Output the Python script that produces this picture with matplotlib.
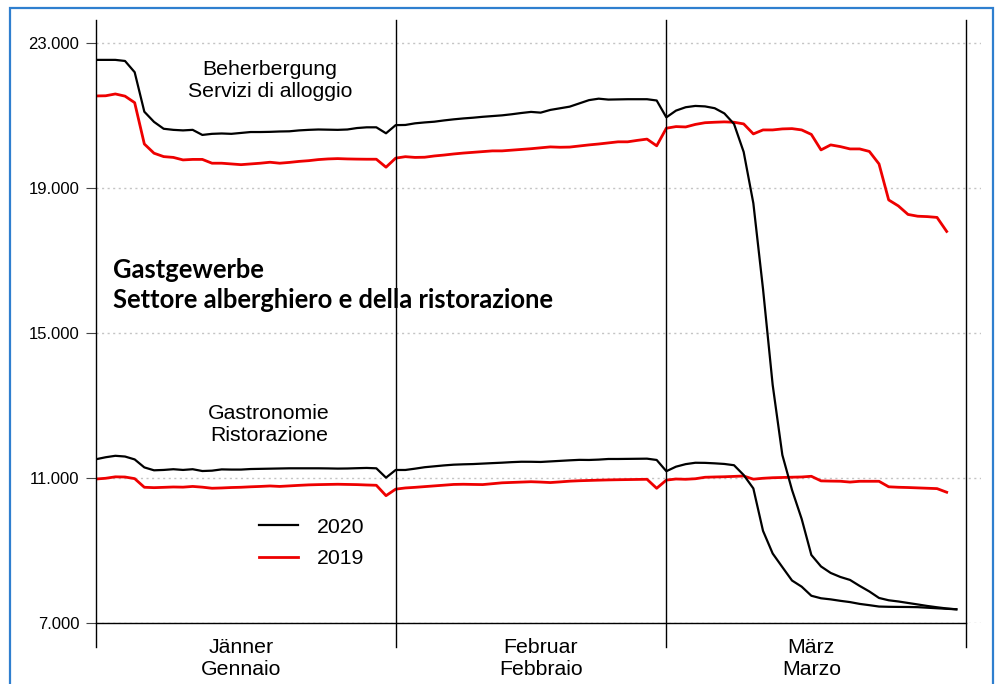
import numpy as np
import matplotlib
matplotlib.use("Agg")
import matplotlib.pyplot as plt
from matplotlib.patches import Rectangle

# daily values, index 0 = 1 January (2020 has 29 Feb, 2019 has not)
beh_2020 = [22540, 22540, 22540, 22510, 22200, 21110, 20830, 20640, 20610, 20595,
            20610, 20470, 20500, 20510, 20500, 20525, 20550, 20550, 20555, 20565,
            20570, 20595, 20610, 20620, 20615, 20610, 20620, 20660, 20680, 20680, 20515,
            20740, 20745, 20790, 20815, 20835, 20870, 20900, 20925, 20945, 20970,
            20990, 21010, 21040, 21075, 21105, 21085, 21160, 21205, 21250, 21340,
            21430, 21470, 21445, 21450, 21455, 21455, 21455, 21420, 20955,
            21141, 21234, 21270, 21257, 21207, 21064, 20773, 20000, 18586, 16222,
            13574, 11643, 10678, 9878, 8885, 8568, 8389, 8278, 8196, 8031,
            7878, 7699, 7635, 7602, 7561, 7520, 7478, 7442, 7409, 7386]

beh_2019 = [21545, 21550, 21600, 21540, 21360, 20220, 19966, 19872, 19850, 19781,
            19795, 19795, 19690, 19690, 19670, 19650, 19670, 19690, 19717, 19690,
            19712, 19740, 19760, 19790, 19808, 19817, 19808, 19803, 19800, 19800, 19580,
            19830, 19870, 19850, 19855, 19890, 19915, 19945, 19970, 19990, 20010,
            20030, 20030, 20050, 20070, 20090, 20115, 20140, 20130, 20135, 20165,
            20195, 20220, 20250, 20280, 20280, 20320, 20355, 20170,
            20655, 20700, 20690, 20760, 20807, 20820, 20830, 20820, 20774, 20498,
            20608, 20608, 20636, 20644, 20608, 20484, 20057, 20195, 20148, 20084,
            20084, 20015, 19670, 18677, 18512, 18277, 18228, 18217, 18195, 17808]

gas_2020 = [11525, 11580, 11620, 11600, 11520, 11300, 11220, 11230, 11250, 11230,
            11250, 11200, 11210, 11245, 11240, 11240, 11255, 11260, 11265, 11270,
            11275, 11275, 11275, 11275, 11272, 11267, 11270, 11278, 11285, 11275, 11017,
            11229, 11229, 11265, 11305, 11330, 11355, 11375, 11385, 11392, 11405,
            11418, 11430, 11445, 11456, 11455, 11450, 11465, 11480, 11495, 11508,
            11505, 11515, 11532, 11532, 11535, 11538, 11541, 11505, 11195,
            11320, 11390, 11428, 11425, 11412, 11395, 11360, 11090, 10720, 9550,
            8925, 8550, 8180, 8010, 7760, 7690, 7660, 7620, 7585, 7535,
            7500, 7462, 7455, 7452, 7450, 7445, 7430, 7415, 7400, 7386]

gas_2019 = [10980, 11000, 11040, 11035, 10990, 10752, 10741, 10750, 10760, 10755,
            10775, 10755, 10725, 10733, 10745, 10752, 10765, 10775, 10788, 10775,
            10790, 10805, 10818, 10825, 10830, 10835, 10830, 10825, 10815, 10807, 10520,
            10700, 10733, 10750, 10770, 10790, 10810, 10830, 10835, 10830, 10826,
            10850, 10875, 10885, 10895, 10905, 10895, 10882, 10900, 10920, 10932,
            10940, 10948, 10955, 10960, 10964, 10968, 10972, 10724,
            10950, 10980, 10972, 10987, 11028, 11036, 11042, 11052, 11063, 10975,
            11000, 11015, 11022, 11030, 11036, 11055, 10928, 10922, 10918, 10895,
            10917, 10917, 10917, 10765, 10752, 10745, 10735, 10725, 10715, 10615]

month_edges = [0, 31, 59, 90]
month_label_pos = [15, 46, 74]
month_labels = ["Jänner\nGennaio", "Februar\nFebbraio", "März\nMarzo"]
y_ticks = [7000, 11000, 15000, 19000, 23000]

RED = "#ee0000"

plt.rcParams["font.family"] = ["Liberation Sans", "DejaVu Sans"]

fig = plt.figure(figsize=(9.97, 6.84), dpi=100)
ax = fig.add_axes([96 / 997, 1 - 623.3 / 684, (981 - 96) / 997, (623.3 - 20) / 684])

ax.set_xlim(0, 91.55)
ax.set_ylim(7000, 23640)

for v in y_ticks:
    ax.axhline(v, color="#c4c4c4", lw=1.0, ls=(0, (1.5, 2.5)), zorder=1)

ax.plot(np.arange(len(beh_2019)), beh_2019, color=RED, lw=2.0, zorder=3)
ax.plot(np.arange(len(gas_2019)), gas_2019, color=RED, lw=2.0, zorder=3, label="2019")
ax.plot(np.arange(len(beh_2020)), beh_2020, color="black", lw=1.6, zorder=4)
ax.plot(np.arange(len(gas_2020)), gas_2020, color="black", lw=1.6, zorder=4, label="2020")

for m in month_edges:
    ax.axvline(m, ymin=-0.039, ymax=1, color="black", lw=1.0, clip_on=False, zorder=5)
ax.plot([month_edges[0], month_edges[-1]], [7000, 7000], color="black", lw=1.0,
        clip_on=False, zorder=5)

for xp, lab in zip(month_label_pos, month_labels):
    ax.text(xp, 6040, lab, ha="center", va="center", fontsize=15.3, linespacing=1.2)

ax.text(18.0, 21960, "Beherbergung\nServizi di alloggio", ha="center", va="center",
        fontsize=15.3, linespacing=1.2)
ax.text(17.9, 12480, "Gastronomie\nRistorazione", ha="center", va="center",
        fontsize=15.3, linespacing=1.2)
ax.text(1.76, 16330, "Gastgewerbe\nSettore alberghiero e della ristorazione",
        ha="left", va="center", fontsize=18.4, fontweight="bold", family="Lato",
        linespacing=1.3)

h, l = ax.get_legend_handles_labels()
ax.legend(h[::-1], l[::-1], loc="center left", bbox_to_anchor=(259 / 997, 1 - 543 / 684),
          bbox_transform=fig.transFigure, frameon=False, fontsize=15.3, borderpad=0,
          borderaxespad=0, handlelength=1.85, handletextpad=0.85, labelspacing=0.6)

ax.set_yticks(y_ticks)
ax.set_yticklabels([f"{v:,}".replace(",", ".") for v in y_ticks])
ax.tick_params(axis="y", length=7, width=0.8, color="#444444", pad=5, labelsize=12)
ax.set_xticks([])
for s in ax.spines.values():
    s.set_visible(False)

fig.patches.append(Rectangle((10 / 997, -0.1), 983 / 997, 1.1 - 8 / 684, transform=fig.transFigure,
                             fill=False, edgecolor="#2f7fcf", lw=1.6))

fig.savefig("out.png", dpi=100)
